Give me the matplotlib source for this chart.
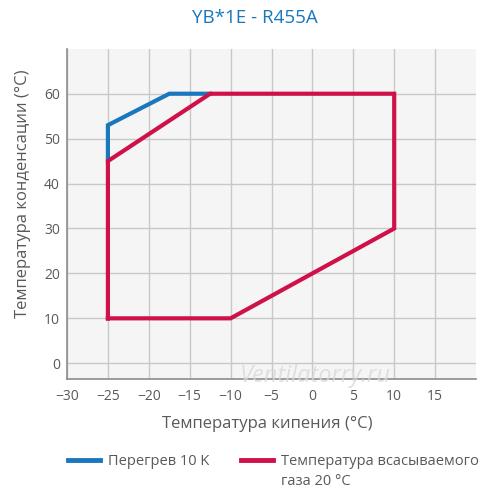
import matplotlib
matplotlib.use("Agg")
import matplotlib.pyplot as plt
from matplotlib.lines import Line2D

# envelope data
blue_x = [-25, -25, -17.5, -12.5]
blue_y = [45, 53, 60, 60]
red_x = [-25, -10, 10, 10, -12.5, -25, -25]
red_y = [10, 10, 30, 60, 60, 45, 10]
xticks = [-30, -25, -20, -15, -10, -5, 0, 5, 10, 15]
yticks = [0, 10, 20, 30, 40, 50, 60]
labels = ['Перегрев 10 K', 'Температура всасываемого\nгаза 20 °C']

blue = '#1877bd'
red = '#d01049'
gray = '#595959'

plt.rcParams['font.family'] = ['Open Sans', 'DejaVu Sans']

fig = plt.figure(figsize=(5.0, 4.98), dpi=100)
ax = fig.add_axes([0.134, 0.239, 0.818, 0.663])
ax.set_facecolor('#f5f5f5')

ax.plot(blue_x, blue_y, color=blue, lw=3, solid_joinstyle='miter', zorder=3)
ax.plot(red_x, red_y, color=red, lw=3, solid_joinstyle='miter', zorder=4)

ax.set_xlim(-30, 20)
ax.set_ylim(-3.5, 70)
ax.set_xticks(xticks)
ax.set_yticks(yticks)
ax.grid(True, color='#c8c8c8', lw=1)
ax.tick_params(length=0, labelsize=10, colors=gray)
ax.tick_params(axis='x', pad=7)
ax.tick_params(axis='y', pad=5)
for s in ['top', 'right']:
    ax.spines[s].set_visible(False)
for s in ['left', 'bottom']:
    ax.spines[s].set_color('#8c8c8c')
    ax.spines[s].set_linewidth(1.2)

ax.set_xlabel('Температура кипения (°C)', fontsize=12, color=gray)
ax.set_ylabel('Температура конденсации (°C)', fontsize=12, color=gray)
ax.xaxis.set_label_coords(0.49, -0.112)
ax.yaxis.set_label_coords(-0.088, 0.56)
fig.text(0.51, 0.963, 'YB*1E - R455A', ha='center', va='center', fontsize=13.5, color=blue)

fig.text(0.63, 0.245, 'Ventilatorry.ru', ha='center', va='center', fontsize=17,
         style='italic', color='#d9d9d9', alpha=0.8, zorder=10)

# legend, items top-aligned like the original
ly = 1 - 460 / 498
for x0, col, lab in [(68, blue, labels[0]), (241, red, labels[1])]:
    fig.add_artist(Line2D([x0 / 500, (x0 + 32) / 500], [ly, ly], color=col, lw=3.5,
                          transform=fig.transFigure))
    fig.text((x0 + 40) / 500, ly + 0.012, lab, ha='left', va='top', fontsize=10.5,
             color=gray, linespacing=1.45)

fig.savefig('out.png', dpi=100, facecolor='white')
